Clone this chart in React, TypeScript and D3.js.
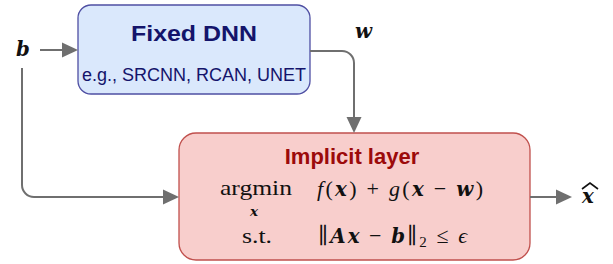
import { useEffect, useRef } from "react";
import * as d3 from "d3";

const W = 613;
const H = 264;

// box labels
const dnnTitle = "Fixed DNN";
const dnnExamples = ["SRCNN", "RCAN", "UNET"];
const layerTitle = "Implicit layer";

// node ids and edges of the diagram
const nodeIds = ["b", "dnn", "layer", "out"];
const edgeList = [
  ["b", "dnn"],
  ["dnn", "layer"],
  ["b", "layer"],
  ["layer", "out"],
];

const GRAY = "#6f6f6f";
const SERIF = "'Liberation Serif', 'DejaVu Serif', serif";
const VEC = "'DejaVu Serif', serif";
const SANS = "'Liberation Sans', Arial, sans-serif";

// layout of the boxes (pixel geometry)
const box = {
  dnn: { x0: 78, y0: 5, x1: 310, y1: 94, r: 13 },
  layer: { x0: 179, y0: 133, x1: 530, y1: 260, r: 17 },
};

function arrowHead(g, x, y, dir) {
  // filled triangle, tip at (x,y)
  const L = 16;
  const hw = 7.5;
  let pts;
  if (dir === "right") pts = [[x, y], [x - L, y - hw], [x - L, y + hw]];
  else pts = [[x, y], [x - hw, y - L], [x + hw, y - L]];
  g.append("path")
    .attr("d", d3.line()(pts) + "Z")
    .attr("fill", GRAY);
}

export default function App() {
  const svgRef = useRef(null);

  useEffect(() => {
    const svg = d3.select(svgRef.current);
    svg.selectAll("*").remove();

    // boxes
    const dnn = box.dnn;
    svg.append("rect")
      .attr("x", dnn.x0).attr("y", dnn.y0)
      .attr("width", dnn.x1 - dnn.x0).attr("height", dnn.y1 - dnn.y0)
      .attr("rx", dnn.r)
      .attr("fill", "#dae8fc")
      .attr("stroke", "#4f4fa3")
      .attr("stroke-width", 1.3);

    const ly = box.layer;
    svg.append("rect")
      .attr("x", ly.x0).attr("y", ly.y0)
      .attr("width", ly.x1 - ly.x0).attr("height", ly.y1 - ly.y0)
      .attr("rx", ly.r)
      .attr("fill", "#f8cecc")
      .attr("stroke", "#c0504d")
      .attr("stroke-width", 1.3);

    // edges
    const eg = svg.append("g");
    const line = (p) =>
      eg.append("path")
        .attr("d", p.toString())
        .attr("fill", "none")
        .attr("stroke", GRAY)
        .attr("stroke-width", 2);

    edgeList.forEach(([from, to]) => {
      const p = d3.path();
      if (from === "b" && to === "dnn") {
        p.moveTo(40, 50);
        p.lineTo(dnn.x0 - 14, 50);
        line(p);
        arrowHead(eg, dnn.x0, 50, "right");
      } else if (from === "dnn" && to === "layer") {
        const cx = 354;
        p.moveTo(dnn.x1, 51);
        p.arcTo(cx, 51, cx, 63, 12);
        p.lineTo(cx, ly.y0 - 14);
        line(p);
        arrowHead(eg, cx, ly.y0, "down");
      } else if (from === "b" && to === "layer") {
        const y = 197;
        p.moveTo(22, 68);
        p.arcTo(22, y, 34, y, 12);
        p.lineTo(ly.x0 - 14, y);
        line(p);
        arrowHead(eg, ly.x0, y, "right");
      } else if (from === "layer" && to === "out") {
        p.moveTo(ly.x1, 197);
        p.lineTo(558, 197);
        line(p);
        arrowHead(eg, 572, 197, "right");
      }
    });

    // box texts
    svg.append("text")
      .attr("x", (dnn.x0 + dnn.x1) / 2).attr("y", 41)
      .attr("text-anchor", "middle")
      .attr("font-family", SANS).attr("font-weight", "bold")
      .attr("font-size", 22)
      .attr("textLength", 126).attr("lengthAdjust", "spacingAndGlyphs")
      .attr("fill", "#14146b")
      .text(dnnTitle);

    svg.append("text")
      .attr("x", (dnn.x0 + dnn.x1) / 2).attr("y", 81)
      .attr("text-anchor", "middle")
      .attr("font-family", SANS)
      .attr("font-size", 18)
      .attr("fill", "#14146b")
      .text("e.g., " + dnnExamples.join(", "));

    svg.append("text")
      .attr("x", 352).attr("y", 164)
      .attr("text-anchor", "middle")
      .attr("font-family", SANS).attr("font-weight", "bold")
      .attr("font-size", 22)
      .attr("fill", "#9c0a0a")
      .text(layerTitle);

    // math
    const math = svg.append("g").attr("font-family", SERIF).attr("fill", "#111");
    const tex = (x, y, size, parts, len, adj = "spacing") => {
      const t = math.append("text").attr("x", x).attr("y", y).attr("font-size", size);
      if (len) t.attr("textLength", len).attr("lengthAdjust", adj);
      parts.forEach(([s, st]) => {
        const ts = t.append("tspan").text(s);
        if (st === "v")
          ts.attr("font-style", "italic").attr("font-weight", "bold")
            .attr("font-family", VEC).attr("font-size", size * 0.9);
        if (st === "i") ts.attr("font-style", "italic");
      });
      return t;
    };

    tex(220, 195, 22, [["argmin", ""]], 72, "spacingAndGlyphs");
    tex(250, 216, 15, [["x", "v"]]);
    tex(317, 196, 22, [
      ["f", "i"], ["(", ""], ["x", "v"], [") + ", ""], ["g", "i"],
      ["(", ""], ["x", "v"], [" \u2212 ", ""], ["w", "v"], [")", ""],
    ], 166);
    tex(242, 243, 22, [["s.t.", ""]], 30, "spacingAndGlyphs");
    const c = tex(318, 243, 22, [
      ["\u2225", ""], ["Ax", "v"], [" \u2212 ", ""], ["b", "v"], ["\u2225", ""],
    ]);
    c.append("tspan").attr("font-size", 15).attr("dy", 4).text("2");
    c.append("tspan").attr("dy", -4).text(" \u2264 ");
    c.append("tspan").attr("font-style", "italic").text("\u03f5");
    c.attr("textLength", 149).attr("lengthAdjust", "spacing");

    // outside labels
    tex(16, 56, 22, [["b", "v"]]);
    tex(355, 38, 22, [["w", "v"]]);
    tex(582, 203, 22, [["x", "v"]]);
    math.append("path")
      .attr("d", d3.line()([[582, 189], [590, 183], [598, 189]]))
      .attr("fill", "none")
      .attr("stroke", "#111")
      .attr("stroke-width", 1.6);
  }, []);

  return (
    <svg
      ref={svgRef}
      width={W}
      height={H}
      data-nodes={nodeIds.join(",")}
      style={{ position: "absolute", left: 0, top: 0, background: "#fff" }}
    />
  );
}
